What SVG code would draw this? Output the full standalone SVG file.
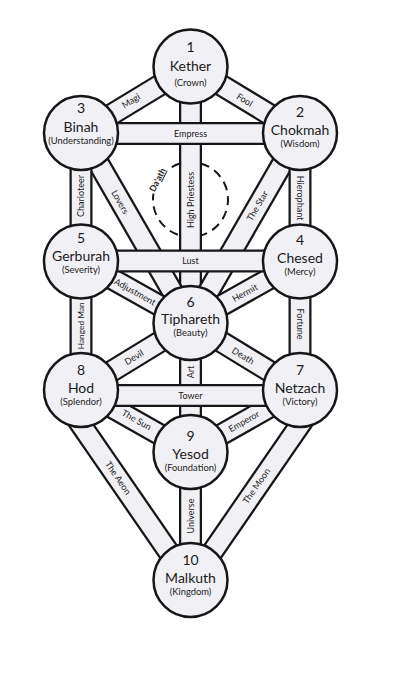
<svg xmlns="http://www.w3.org/2000/svg" width="400" height="675" viewBox="0 0 400 675">
<style>
.bo{stroke:#161616;stroke-width:23;fill:none}
.bi{stroke:#f1f0f4;stroke-width:18.5;fill:none}
.nd{fill:#f1f0f4;stroke:#161616;stroke-width:2.5}
text{font-family:Lato,"Open Sans","Liberation Sans",sans-serif;fill:#1b1b1b;text-anchor:middle}
.num,.nm{font-size:14px}
.sub{font-size:9.4px}
.pl{font-size:9px}
.hm{font-size:8.4px}
.da{font-size:8.8px;font-weight:bold}
.daath{fill:none;stroke:#161616;stroke-width:2;stroke-dasharray:9 6}
</style>
<rect width="400" height="675" fill="#fff"/>
<g id="connectors">
  <path class="daath" d="M171.75,167.02 A37.5,37.5 0 1 1 153.46,193.63"/>
  <g id="path-high-priestess"><line class="bo" x1="190.5" y1="66.5" x2="190.5" y2="323"/><line class="bi" x1="190.5" y1="66.5" x2="190.5" y2="323"/></g>
  <g id="path-lovers"><line class="bo" x1="81" y1="133" x2="190.5" y2="323"/><line class="bi" x1="81" y1="133" x2="190.5" y2="323"/></g>
  <g id="path-star"><line class="bo" x1="300" y1="133" x2="190.5" y2="323"/><line class="bi" x1="300" y1="133" x2="190.5" y2="323"/></g>
  <g id="path-art"><line class="bo" x1="190.5" y1="323" x2="190.5" y2="452"/><line class="bi" x1="190.5" y1="323" x2="190.5" y2="452"/></g>
  <g id="path-magi"><line class="bo" x1="190.5" y1="66.5" x2="81" y2="133"/><line class="bi" x1="190.5" y1="66.5" x2="81" y2="133"/></g>
  <g id="path-fool"><line class="bo" x1="190.5" y1="66.5" x2="300" y2="133"/><line class="bi" x1="190.5" y1="66.5" x2="300" y2="133"/></g>
  <g id="path-charioteer"><line class="bo" x1="81" y1="133" x2="81" y2="261.5"/><line class="bi" x1="81" y1="133" x2="81" y2="261.5"/></g>
  <g id="path-hierophant"><line class="bo" x1="300" y1="133" x2="300" y2="261.5"/><line class="bi" x1="300" y1="133" x2="300" y2="261.5"/></g>
  <g id="path-adjustment"><line class="bo" x1="81" y1="261.5" x2="190.5" y2="323"/><line class="bi" x1="81" y1="261.5" x2="190.5" y2="323"/></g>
  <g id="path-hermit"><line class="bo" x1="300" y1="261.5" x2="190.5" y2="323"/><line class="bi" x1="300" y1="261.5" x2="190.5" y2="323"/></g>
  <g id="path-hanged-man"><line class="bo" x1="81" y1="261.5" x2="81" y2="390"/><line class="bi" x1="81" y1="261.5" x2="81" y2="390"/></g>
  <g id="path-fortune"><line class="bo" x1="300" y1="261.5" x2="300" y2="390"/><line class="bi" x1="300" y1="261.5" x2="300" y2="390"/></g>
  <g id="path-devil"><line class="bo" x1="81" y1="390" x2="190.5" y2="323"/><line class="bi" x1="81" y1="390" x2="190.5" y2="323"/></g>
  <g id="path-death"><line class="bo" x1="300" y1="390" x2="190.5" y2="323"/><line class="bi" x1="300" y1="390" x2="190.5" y2="323"/></g>
  <g id="path-sun"><line class="bo" x1="81" y1="390" x2="190.5" y2="452"/><line class="bi" x1="81" y1="390" x2="190.5" y2="452"/></g>
  <g id="path-emperor"><line class="bo" x1="300" y1="390" x2="190.5" y2="452"/><line class="bi" x1="300" y1="390" x2="190.5" y2="452"/></g>
  <g id="path-aeon"><line class="bo" x1="57" y1="390" x2="188" y2="580"/><line class="bi" x1="57" y1="390" x2="188" y2="580"/></g>
  <g id="path-moon"><line class="bo" x1="324" y1="390" x2="193" y2="580"/><line class="bi" x1="324" y1="390" x2="193" y2="580"/></g>
  <g id="path-universe"><line class="bo" x1="190.5" y1="452" x2="190.5" y2="580"/><line class="bi" x1="190.5" y1="452" x2="190.5" y2="580"/></g>
  <g id="path-empress"><line class="bo" x1="81" y1="133.5" x2="300" y2="133.5"/><line class="bi" x1="81" y1="133.5" x2="300" y2="133.5"/></g>
  <g id="path-lust"><line class="bo" x1="81" y1="261" x2="300" y2="261"/><line class="bi" x1="81" y1="261" x2="300" y2="261"/></g>
  <g id="path-tower"><line class="bo" x1="81" y1="395.5" x2="300" y2="395.5"/><line class="bi" x1="81" y1="395.5" x2="300" y2="395.5"/></g>
  <g id="connector-labels">
    <text class="pl" transform="translate(190.5,200) rotate(-90)" y="3">High Priestess</text>
    <text class="pl" transform="translate(120,202) rotate(60)" y="3">Lovers</text>
    <text class="pl" transform="translate(257.5,206) rotate(-60)" y="3">The Star</text>
    <text class="pl" transform="translate(190.5,372) rotate(-90)" y="3">Art</text>
    <text class="pl" transform="translate(131,101) rotate(-31.3)" y="3">Magi</text>
    <text class="pl" transform="translate(244.5,100) rotate(31.3)" y="3">Fool</text>
    <text class="pl" transform="translate(81,196) rotate(-90)" y="3">Charioteer</text>
    <text class="pl" transform="translate(300,198) rotate(90)" y="3">Hierophant</text>
    <text class="pl" transform="translate(135,292) rotate(29.3)" y="3">Adjustment</text>
    <text class="pl" transform="translate(245,293) rotate(-29.3)" y="3">Hermit</text>
    <text class="pl hm" transform="translate(81,325.8) rotate(-90)" y="3">Hanged Man</text>
    <text class="pl" transform="translate(300,324) rotate(90)" y="3">Fortune</text>
    <text class="pl" transform="translate(134,357.5) rotate(-31.5)" y="3">Devil</text>
    <text class="pl" transform="translate(243,356) rotate(31.5)" y="3">Death</text>
    <text class="pl" transform="translate(136.5,420) rotate(29.5)" y="3">The Sun</text>
    <text class="pl" transform="translate(244,421.5) rotate(-29.5)" y="3">Emperor</text>
    <text class="pl" transform="translate(118,478) rotate(55.4)" y="3">The Aeon</text>
    <text class="pl" transform="translate(256.5,486) rotate(-55.4)" y="3">The Moon</text>
    <text class="pl" transform="translate(190.5,516) rotate(-90)" y="3">Universe</text>
    <text class="pl" x="190.5" y="136.5">Empress</text>
    <text class="pl" x="190.5" y="264">Lust</text>
    <text class="pl" x="190.5" y="398.5">Tower</text>
    <text class="da" transform="translate(157.5,180) rotate(-63)" y="3">Da'<tspan text-decoration="underline">ath</tspan></text>
  </g>
</g>
<g id="kether"><circle class="nd" cx="190.5" cy="66.5" r="37"/><text class="num" x="190.5" y="52">1</text><text class="nm" x="190.5" y="71">Kether</text><text class="sub" x="190.5" y="86">(Crown)</text></g>
<g id="chokmah"><circle class="nd" cx="300" cy="133" r="37"/><text class="num" x="300" y="117">2</text><text class="nm" x="300" y="134.5">Chokmah</text><text class="sub" x="300" y="146.5">(Wisdom)</text></g>
<g id="binah"><circle class="nd" cx="81" cy="133" r="37"/><text class="num" x="81" y="113">3</text><text class="nm" x="81" y="131.5">Binah</text><text class="sub" x="81" y="144">(Understanding)</text></g>
<g id="chesed"><circle class="nd" cx="300" cy="261.5" r="37"/><text class="num" x="300" y="245">4</text><text class="nm" x="300" y="262.5">Chesed</text><text class="sub" x="300" y="275">(Mercy)</text></g>
<g id="gerburah"><circle class="nd" cx="81" cy="261.5" r="37"/><text class="num" x="81" y="243">5</text><text class="nm" x="81" y="260.5">Gerburah</text><text class="sub" x="81" y="273">(Severity)</text></g>
<g id="tiphareth"><circle class="nd" cx="190.5" cy="323" r="37"/><text class="num" x="190.5" y="307">6</text><text class="nm" x="190.5" y="323.5">Tiphareth</text><text class="sub" x="190.5" y="336">(Beauty)</text></g>
<g id="netzach"><circle class="nd" cx="300" cy="390" r="37"/><text class="num" x="300" y="375">7</text><text class="nm" x="300" y="392.5">Netzach</text><text class="sub" x="300" y="405">(Victory)</text></g>
<g id="hod"><circle class="nd" cx="81" cy="390" r="37"/><text class="num" x="81" y="375">8</text><text class="nm" x="81" y="392.5">Hod</text><text class="sub" x="81" y="405">(Splendor)</text></g>
<g id="yesod"><circle class="nd" cx="190.5" cy="452" r="37"/><text class="num" x="190.5" y="441">9</text><text class="nm" x="190.5" y="458.5">Yesod</text><text class="sub" x="190.5" y="471">(Foundation)</text></g>
<g id="malkuth"><circle class="nd" cx="190.5" cy="580" r="37"/><text class="num" x="190.5" y="565">10</text><text class="nm" x="190.5" y="582.5">Malkuth</text><text class="sub" x="190.5" y="595">(Kingdom)</text></g>
</svg>
